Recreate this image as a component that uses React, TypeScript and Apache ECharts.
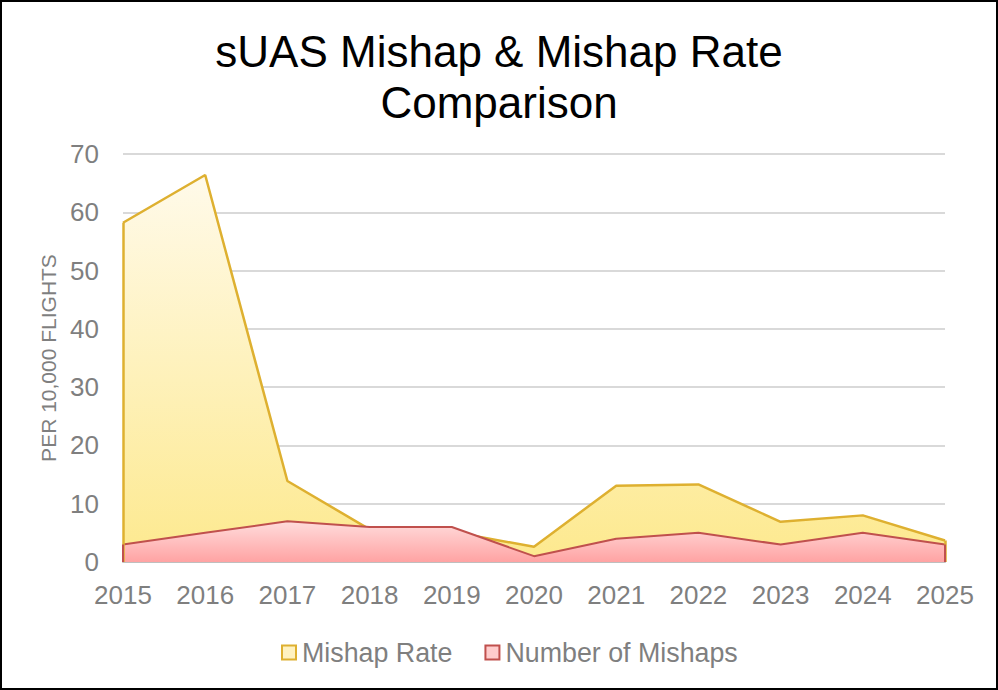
import React, { useEffect, useRef } from "react";
import * as echarts from "echarts";

const years = ["2015", "2016", "2017", "2018", "2019", "2020", "2021", "2022", "2023", "2024", "2025"];
const mishapRate = [58.2, 66.4, 13.9, 5.6, 5.2, 2.6, 13.1, 13.3, 6.9, 8.0, 3.7];
const mishapCount = [3, 5, 7, 6, 6, 1, 4, 5, 3, 5, 3];

export default function App() {
  const ref = useRef<HTMLDivElement>(null);
  useEffect(() => {
    if (!ref.current) return;
    const chart = echarts.init(ref.current, null, { renderer: "svg" });
    const font = "'Liberation Sans', Arial, sans-serif";
    const last = years.length - 1;
    const edge = (x: number, y0: number, y1: number) => [
      { coord: [x, y0] },
      { coord: [x, y1] },
    ];
    chart.setOption({
      animation: false,
      backgroundColor: "#ffffff",
      textStyle: { fontFamily: font },
      title: {
        text: "sUAS Mishap & Mishap Rate\nComparison",
        left: "center",
        top: 19,
        textStyle: { fontSize: 44, fontWeight: "normal", color: "#000000", lineHeight: 51, fontFamily: font },
      },
      legend: {
        bottom: 17,
        left: 274,
        itemWidth: 14,
        itemHeight: 14,
        itemGap: 32,
        icon: "rect",
        textStyle: { fontSize: 26.8, color: "#7f7f7f", fontFamily: font, padding: [0, 0, 0, 1] },
        data: [
          { name: "Mishap Rate", itemStyle: { color: "#fff2c0", borderColor: "#deb030", borderWidth: 2 } },
          { name: "Number of Mishaps", itemStyle: { color: "#ffcccc", borderColor: "#c0504d", borderWidth: 2 } },
        ],
      },
      grid: { left: 121, right: 51, top: 152, bottom: 126, containLabel: false },
      xAxis: {
        type: "category",
        data: years,
        boundaryGap: false,
        axisLine: { lineStyle: { color: "#bfbfbf", width: 2 } },
        axisTick: { show: false },
        axisLabel: { fontSize: 26, color: "#7f7f7f", margin: 20, fontFamily: font },
      },
      yAxis: {
        type: "value",
        min: 0,
        max: 70,
        interval: 10,
        name: "PER 10,000 FLIGHTS",
        nameLocation: "middle",
        nameRotate: 90,
        nameGap: 61,
        nameTextStyle: { fontSize: 21, color: "#7f7f7f", fontFamily: font },
        axisLine: { show: false },
        axisTick: { show: false },
        axisLabel: { fontSize: 26, color: "#7f7f7f", margin: 24, fontFamily: font },
        splitLine: { lineStyle: { color: "#d9d9d9", width: 2 } },
      },
      series: [
        {
          name: "Mishap Rate",
          type: "line",
          data: mishapRate,
          symbol: "none",
          lineStyle: { color: "#deb030", width: 2.5 },
          itemStyle: { color: "#fff2c0", borderColor: "#deb030" },
          areaStyle: {
            opacity: 1,
            color: new echarts.graphic.LinearGradient(0, 0, 0, 1, [
              { offset: 0, color: "#fffaea" },
              { offset: 1, color: "#fde98e" },
            ]),
          },
          markLine: {
            silent: true,
            symbol: "none",
            label: { show: false },
            lineStyle: { color: "#deb030", width: 2.5, type: "solid" },
            data: [edge(0, 0, mishapRate[0]), edge(last, 0, mishapRate[last])],
          },
          z: 2,
        },
        {
          name: "Number of Mishaps",
          type: "line",
          data: mishapCount,
          symbol: "none",
          lineStyle: { color: "#c0504d", width: 2 },
          itemStyle: { color: "#ffcccc", borderColor: "#c0504d" },
          areaStyle: {
            opacity: 1,
            color: new echarts.graphic.LinearGradient(0, 0, 0, 1, [
              { offset: 0, color: "#ffdcdc" },
              { offset: 1, color: "#ffa3a3" },
            ]),
          },
          markLine: {
            silent: true,
            symbol: "none",
            label: { show: false },
            lineStyle: { color: "#c0504d", width: 2, type: "solid" },
            data: [edge(0, 0, mishapCount[0]), edge(last, 0, mishapCount[last])],
          },
          z: 3,
        },
      ],
    });
    return () => chart.dispose();
  }, []);
  return (
    <div
      style={{
        position: "absolute",
        left: 0,
        top: 0,
        width: 998,
        height: 690,
        boxSizing: "border-box",
        border: "2px solid #000",
        background: "#fff",
      }}
    >
      <div ref={ref} style={{ width: 994, height: 686 }} />
    </div>
  );
}
